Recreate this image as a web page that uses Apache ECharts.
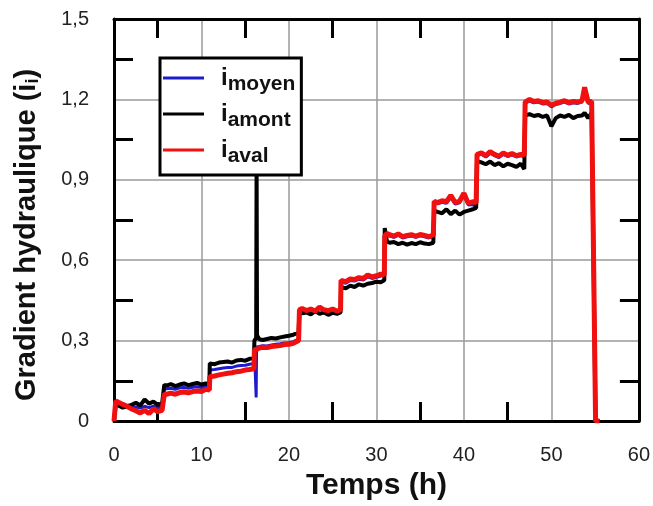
<!DOCTYPE html>
<html>
<head>
<meta charset="utf-8">
<script src="https://cdn.jsdelivr.net/npm/echarts@6/dist/echarts.min.js"></script>
<style>
  html, body { margin: 0; padding: 0; background: #fff; }
  #chart { width: 653px; height: 506px; }
</style>
</head>
<body>
<div id="chart"></div>
<script>
// Time of each reading (h), shared by the three gradient records
const hours = [
  0, 0.2, 0.5, 1.0, 1.5, 2.0, 2.5, 3.0, 3.5, 4.0, 4.5, 5.0, 5.5, 5.7,
  5.75, 6.0, 6.5, 7.0, 7.5, 8.0, 8.5, 9.0, 9.5, 10.0, 10.5, 10.9,
  10.95, 11.5, 12.0, 12.5, 13.0, 13.5, 14.0, 14.5, 15.0, 15.5, 16.0,
  16.05, 16.25, 16.3, 16.35, 16.6, 17.0, 17.5, 18.0, 18.5, 19.0, 19.5, 20.0, 20.5, 21.1,
  21.2, 21.5, 22.0, 22.5, 23.0, 23.5, 24.0, 24.5, 25.0, 25.5, 25.9,
  25.95, 26.5, 27.0, 27.5, 28.0, 28.5, 29.0, 29.5, 30.0, 30.5, 30.9,
  30.95, 31.2, 31.5, 32.0, 32.5, 33.0, 33.5, 34.0, 34.5, 35.0, 35.5, 36.0, 36.5,
  36.6, 37.0, 37.5, 38.0, 38.5, 39.0, 39.5, 40.0, 40.5, 41.0, 41.4,
  41.5, 42.0, 42.5, 43.0, 43.5, 44.0, 44.5, 45.0, 45.5, 46.0, 46.5, 46.9,
  47.0, 47.5, 48.0, 48.5, 49.0, 49.5, 50.0, 50.5, 51.0, 51.5, 52.0, 52.5, 53.0, 53.5, 53.8, 54.2, 54.6,
  55.05, 55.5
];

// Mean gradient
const iMoyen = [
  0, 0.065, 0.060, 0.055, 0.050, 0.050, 0.052, 0.048, 0.055, 0.050, 0.055, 0.050, 0.052, 0.050,
  0.120, 0.120, 0.122, 0.118, 0.124, 0.125, 0.122, 0.126, 0.128, 0.125, 0.130, 0.128,
  0.190, 0.192, 0.195, 0.198, 0.200, 0.200, 0.205, 0.207, 0.208, 0.212, 0.215,
  0.271, 0.088, 0.276, 0.274, 0.278, 0.281, 0.280, 0.284, 0.286, 0.288, 0.291, 0.292, 0.296, 0.306,
  0.411, 0.415, 0.408, 0.413, 0.406, 0.420, 0.411, 0.407, 0.413, 0.406, 0.411,
  0.519, 0.514, 0.524, 0.522, 0.529, 0.526, 0.538, 0.532, 0.536, 0.541, 0.548,
  0.700, 0.694, 0.690, 0.685, 0.693, 0.683, 0.687, 0.690, 0.685, 0.691, 0.687, 0.683, 0.689,
  0.815, 0.810, 0.816, 0.812, 0.834, 0.809, 0.814, 0.842, 0.806, 0.808, 0.796,
  0.990, 0.995, 0.985, 0.999, 0.990, 0.983, 0.995, 0.987, 0.993, 0.985, 0.990, 0.987,
  1.185, 1.194, 1.187, 1.190, 1.183, 1.185, 1.172, 1.181, 1.185, 1.190, 1.183, 1.187, 1.185, 1.190, 1.230, 1.185, 1.187,
  0, 0
];

// Upstream gradient
const iAmont = [
  0, 0.060, 0.058, 0.050, 0.055, 0.060, 0.068, 0.058, 0.080, 0.065, 0.072, 0.060, 0.066, 0.062,
  0.135, 0.132, 0.138, 0.130, 0.136, 0.140, 0.134, 0.138, 0.142, 0.136, 0.140, 0.138,
  0.215, 0.212, 0.218, 0.220, 0.222, 0.218, 0.226, 0.228, 0.225, 0.232, 0.235,
  0.300, 0.310, 0.970, 0.320, 0.305, 0.302, 0.306, 0.310, 0.308, 0.312, 0.315, 0.318, 0.322, 0.330,
  0.410, 0.402, 0.405, 0.398, 0.410, 0.400, 0.405, 0.396, 0.404, 0.400, 0.405,
  0.500, 0.495, 0.505, 0.500, 0.510, 0.505, 0.512, 0.515, 0.520, 0.518, 0.525,
  0.720, 0.670, 0.665, 0.668, 0.660, 0.665, 0.658, 0.664, 0.660, 0.667, 0.662, 0.660, 0.665,
  0.785, 0.780, 0.775, 0.790, 0.772, 0.785, 0.770, 0.780, 0.785, 0.790, 0.795,
  0.970, 0.965, 0.958, 0.968, 0.955, 0.962, 0.950, 0.960, 0.955, 0.948, 0.960, 0.940,
  1.140, 1.145, 1.138, 1.142, 1.135, 1.140, 1.100, 1.130, 1.140, 1.135, 1.142, 1.130, 1.138, 1.140, 1.150, 1.130, 1.150,
  0, 0
];

// Downstream gradient
const iAval = [
  0, 0.075, 0.070, 0.062, 0.055, 0.045, 0.038, 0.030, 0.040, 0.028, 0.045, 0.035, 0.040, 0.038,
  0.100, 0.100, 0.104, 0.100, 0.106, 0.108, 0.105, 0.110, 0.112, 0.110, 0.118, 0.116,
  0.165, 0.168, 0.172, 0.175, 0.178, 0.180, 0.184, 0.186, 0.190, 0.192, 0.195,
  0.265, 0.268, 0.270, 0.268, 0.272, 0.275, 0.274, 0.278, 0.280, 0.282, 0.285, 0.286, 0.290, 0.300,
  0.415, 0.420, 0.412, 0.418, 0.410, 0.425, 0.415, 0.412, 0.418, 0.410, 0.415,
  0.525, 0.520, 0.530, 0.528, 0.535, 0.532, 0.545, 0.538, 0.542, 0.548, 0.545,
  0.690, 0.700, 0.695, 0.690, 0.698, 0.688, 0.692, 0.695, 0.690, 0.696, 0.692, 0.688, 0.694,
  0.820, 0.815, 0.822, 0.818, 0.842, 0.815, 0.820, 0.850, 0.812, 0.818, 0.815,
  0.995, 1.000, 0.990, 1.005, 0.995, 0.988, 1.000, 0.992, 0.998, 0.990, 0.995, 0.992,
  1.190, 1.200, 1.192, 1.195, 1.188, 1.190, 1.178, 1.186, 1.190, 1.195, 1.188, 1.192, 1.190, 1.195, 1.245, 1.190, 1.192,
  0, 0
];

const seriesNames = ['moyen', 'amont', 'aval'];
const seriesColors = ['#1c1ccc', '#000000', '#f01010'];
const seriesWidths = [3, 4, 5];

const FONT = "'Liberation Sans', Arial, sans-serif";
const pairs = arr => hours.map((t, k) => [t, arr[k]]);

const frameLine = { show: true, onZero: false, lineStyle: { color: '#000', width: 3 } };
const halfTicks = { show: true, splitNumber: 2, length: 19, lineStyle: { color: '#000', width: 3 } };
const gridLine = { show: true, lineStyle: { color: '#9a9a9a', width: 1.5 } };
const commaFmt = v => (v === 0 ? '0' : v.toFixed(1).replace('.', ','));

const chart = echarts.init(document.getElementById('chart'));
chart.setOption({
  animation: false,
  backgroundColor: '#fff',
  grid: { left: 114, right: 12, top: 19, bottom: 85, containLabel: false },
  xAxis: [
    {
      type: 'value', min: 0, max: 60, interval: 10, position: 'bottom',
      axisLine: frameLine,
      axisTick: { show: false, inside: true },
      minorTick: halfTicks,
      splitLine: gridLine,
      axisLabel: { fontSize: 20, color: '#222', margin: 24, fontFamily: FONT },
      name: 'Temps (h)', nameLocation: 'middle', nameGap: 50,
      nameTextStyle: { fontSize: 30, fontWeight: 'bold', color: '#111', fontFamily: FONT }
    },
    {
      type: 'value', min: 0, max: 60, interval: 10, position: 'top',
      axisLine: frameLine,
      axisTick: { show: false, inside: true },
      minorTick: halfTicks,
      splitLine: { show: false },
      axisLabel: { show: false }
    }
  ],
  yAxis: [
    {
      type: 'value', min: 0, max: 1.5, interval: 0.3, position: 'left',
      axisLine: frameLine,
      axisTick: { show: false, inside: true },
      minorTick: halfTicks,
      splitLine: gridLine,
      axisLabel: { fontSize: 20, color: '#222', margin: 25, fontFamily: FONT, formatter: commaFmt },
      name: 'Gradient hydraulique (i{s|i})', nameLocation: 'middle', nameGap: 72,
      nameTextStyle: {
        fontSize: 29, fontWeight: 'bold', color: '#111', fontFamily: FONT,
        padding: [0, 30, 0, 0],
        rich: { s: { fontSize: 18, fontWeight: 'bold', color: '#111', fontFamily: FONT, padding: [12, 0, 0, 0] } }
      }
    },
    {
      type: 'value', min: 0, max: 1.5, interval: 0.3, position: 'right',
      axisLine: frameLine,
      axisTick: { show: false, inside: true },
      minorTick: halfTicks,
      splitLine: { show: false },
      axisLabel: { show: false }
    }
  ],
  legend: {
    orient: 'vertical', left: 160, top: 58,
    backgroundColor: '#fff', borderColor: '#000', borderWidth: 3,
    padding: [8, 6, 8, 3], itemGap: 7, itemWidth: 41, itemHeight: 3, icon: 'rect',
    data: seriesNames,
    formatter: n => '{i|i}{s|' + n + '}',
    textStyle: {
      rich: {
        i: { fontSize: 24, fontWeight: 'bold', color: '#111', fontFamily: FONT, lineHeight: 24, verticalAlign: 'top', padding: [0, 0, 0, 12] },
        s: { fontSize: 21, fontWeight: 'bold', color: '#111', fontFamily: FONT, lineHeight: 21, verticalAlign: 'top', padding: [8, 0, 0, 0] }
      }
    }
  },
  series: seriesNames.map((n, k) => ({
    name: n,
    type: 'line',
    xAxisIndex: 0, yAxisIndex: 0,
    data: pairs([iMoyen, iAmont, iAval][k]),
    showSymbol: false,
    color: seriesColors[k],
    lineStyle: { color: seriesColors[k], width: seriesWidths[k] },
    z: 2 + k
  }))
});
</script>
</body>
</html>
